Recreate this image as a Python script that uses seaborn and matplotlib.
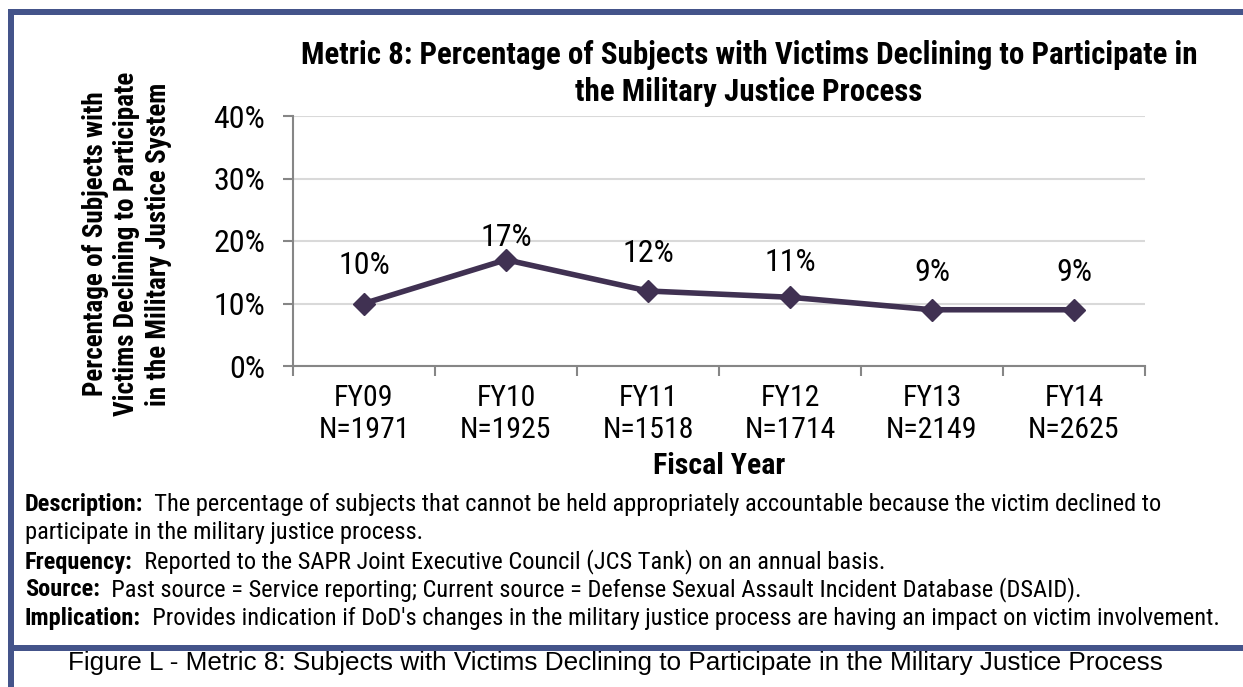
import numpy as np
import pandas as pd
import matplotlib
matplotlib.use("Agg")
import matplotlib.pyplot as plt
from matplotlib.patches import Rectangle
from matplotlib.ticker import PercentFormatter
import seaborn as sns

# ---- data ----
years = ["FY09", "FY10", "FY11", "FY12", "FY13", "FY14"]
counts = [1971, 1925, 1518, 1714, 2149, 2625]
pct = [0.10, 0.17, 0.12, 0.11, 0.09, 0.09]

# how far each value label sits above its point (points); Excel nudged FY10 down
label_offsets = [27, 16, 27, 25, 27, 27]

title = ("Metric 8: Percentage of Subjects with Victims Declining to Participate in\n"
         "the Military Justice Process")
ylabel = ("Percentage of Subjects with\nVictims Declining to Participate\n"
          "in the Military Justice System")
xlabel = "Fiscal Year"
caption = "Figure L - Metric 8: Subjects with Victims Declining to Participate in the Military Justice Process"

note_heads = ["Description:", "", "Frequency:", "Source:", "Implication:"]
note_texts = [
    "  The percentage of subjects that cannot be held appropriately accountable because the victim declined to",
    "participate in the military justice process.",
    "  Reported to the SAPR Joint Executive Council (JCS Tank) on an annual basis.",
    "  Past source = Service reporting; Current source = Defense Sexual Assault Incident Database (DSAID).",
    "  Provides indication if DoD's changes in the military justice process are having an impact on victim involvement.",
]

# ---- style ----
W, H = 1243, 687
NARROW = ["Roboto Condensed", "Liberation Sans", "DejaVu Sans"]
FRAME = "#44548A"
LINE = "#403152"
AXIS = "#868686"

sns.set_theme(style="white")
plt.rcParams["font.family"] = NARROW
plt.rcParams["text.color"] = "black"
plt.rcParams["axes.labelcolor"] = "black"
plt.rcParams["xtick.color"] = "black"
plt.rcParams["ytick.color"] = "black"

df = pd.DataFrame({"year": years, "pct": pct})

fig = plt.figure(figsize=(W / 100, H / 100), dpi=100)
ax = fig.add_axes([293 / W, 1 - 366 / H, (1145 - 293) / W, 250 / H])

sns.lineplot(data=df, x="year", y="pct", ax=ax, sort=False,
             color=LINE, linewidth=4, marker="D", markersize=11,
             markeredgecolor=LINE, markeredgewidth=1)

for i, (v, off) in enumerate(zip(pct, label_offsets)):
    ax.annotate(f"{v:.0%}", (i, v), xytext=(0, off), textcoords="offset points",
                ha="center", va="center", fontsize=23)

ax.set_xlim(-0.5, len(years) - 0.5)
ax.set_ylim(0, 0.4)
ax.set_yticks([0, 0.1, 0.2, 0.3, 0.4])
ax.yaxis.set_major_formatter(PercentFormatter(1.0, decimals=0))
ax.set_xticks(range(len(years)))
ax.set_xticklabels([f"{y}\nN={n}" for y, n in zip(years, counts)])
ax.set_xticks(np.arange(-0.5, len(years)), minor=True)

ax.tick_params(axis="x", which="major", length=0, pad=13, labelsize=21.5)
ax.tick_params(axis="x", which="minor", bottom=True, length=7, width=1.5,
               color=AXIS, direction="out")
ax.tick_params(axis="y", left=True, length=7, width=1.5, color=AXIS,
               pad=13, labelsize=23)
ax.grid(axis="y", color="#D9D9D9", linewidth=1.5)
ax.grid(axis="x", visible=False)
for s in ["top", "right"]:
    ax.spines[s].set_visible(False)
for s in ["left", "bottom"]:
    ax.spines[s].set_color(AXIS)
    ax.spines[s].set_linewidth(1.5)

ax.set_title(title, x=(749 - 293) / 852, y=(366 - 82) / 250, va="center",
             fontsize=22.3, fontweight="bold", linespacing=1.27)
ax.set_ylabel(ylabel, fontsize=19.5, fontweight="bold", linespacing=1.22)
ax.yaxis.set_label_coords((127 - 293) / 852, (366 - 244) / 250)
ax.yaxis.label.set_va("center")
ax.set_xlabel(xlabel, fontsize=21.5, fontweight="bold")
ax.xaxis.set_label_coords(0.5, (366 - 466) / 250)
ax.xaxis.label.set_va("center")

# ---- notes under the chart ----
renderer = fig.canvas.get_renderer()
note_y = [505, 533, 562, 590, 619]
for head, body, y in zip(note_heads, note_texts, note_y):
    x = 25 / W
    if head:
        t = fig.text(x, 1 - y / H, head, fontsize=17.6, fontweight="bold", va="center")
        bb = t.get_window_extent(renderer)
        x = bb.x1 / W
    fig.text(x, 1 - y / H, body, fontsize=17.6, va="center")

fig.text(615 / W, 1 - 663 / H, caption, ha="center", va="center", fontsize=18.8,
         family=["Liberation Sans", "DejaVu Sans"])

# ---- frame ----
fig.add_artist(Rectangle((8 / W, 0), 6 / W, 1 - 9 / H, transform=fig.transFigure,
                         color=FRAME, lw=0))
fig.add_artist(Rectangle((8 / W, 1 - 15 / H), 1, 6 / H, transform=fig.transFigure,
                         color=FRAME, lw=0))
fig.add_artist(Rectangle((8 / W, 1 - 651 / H), 1, 6 / H, transform=fig.transFigure,
                         color=FRAME, lw=0))

fig.savefig("out.png", dpi=100)
